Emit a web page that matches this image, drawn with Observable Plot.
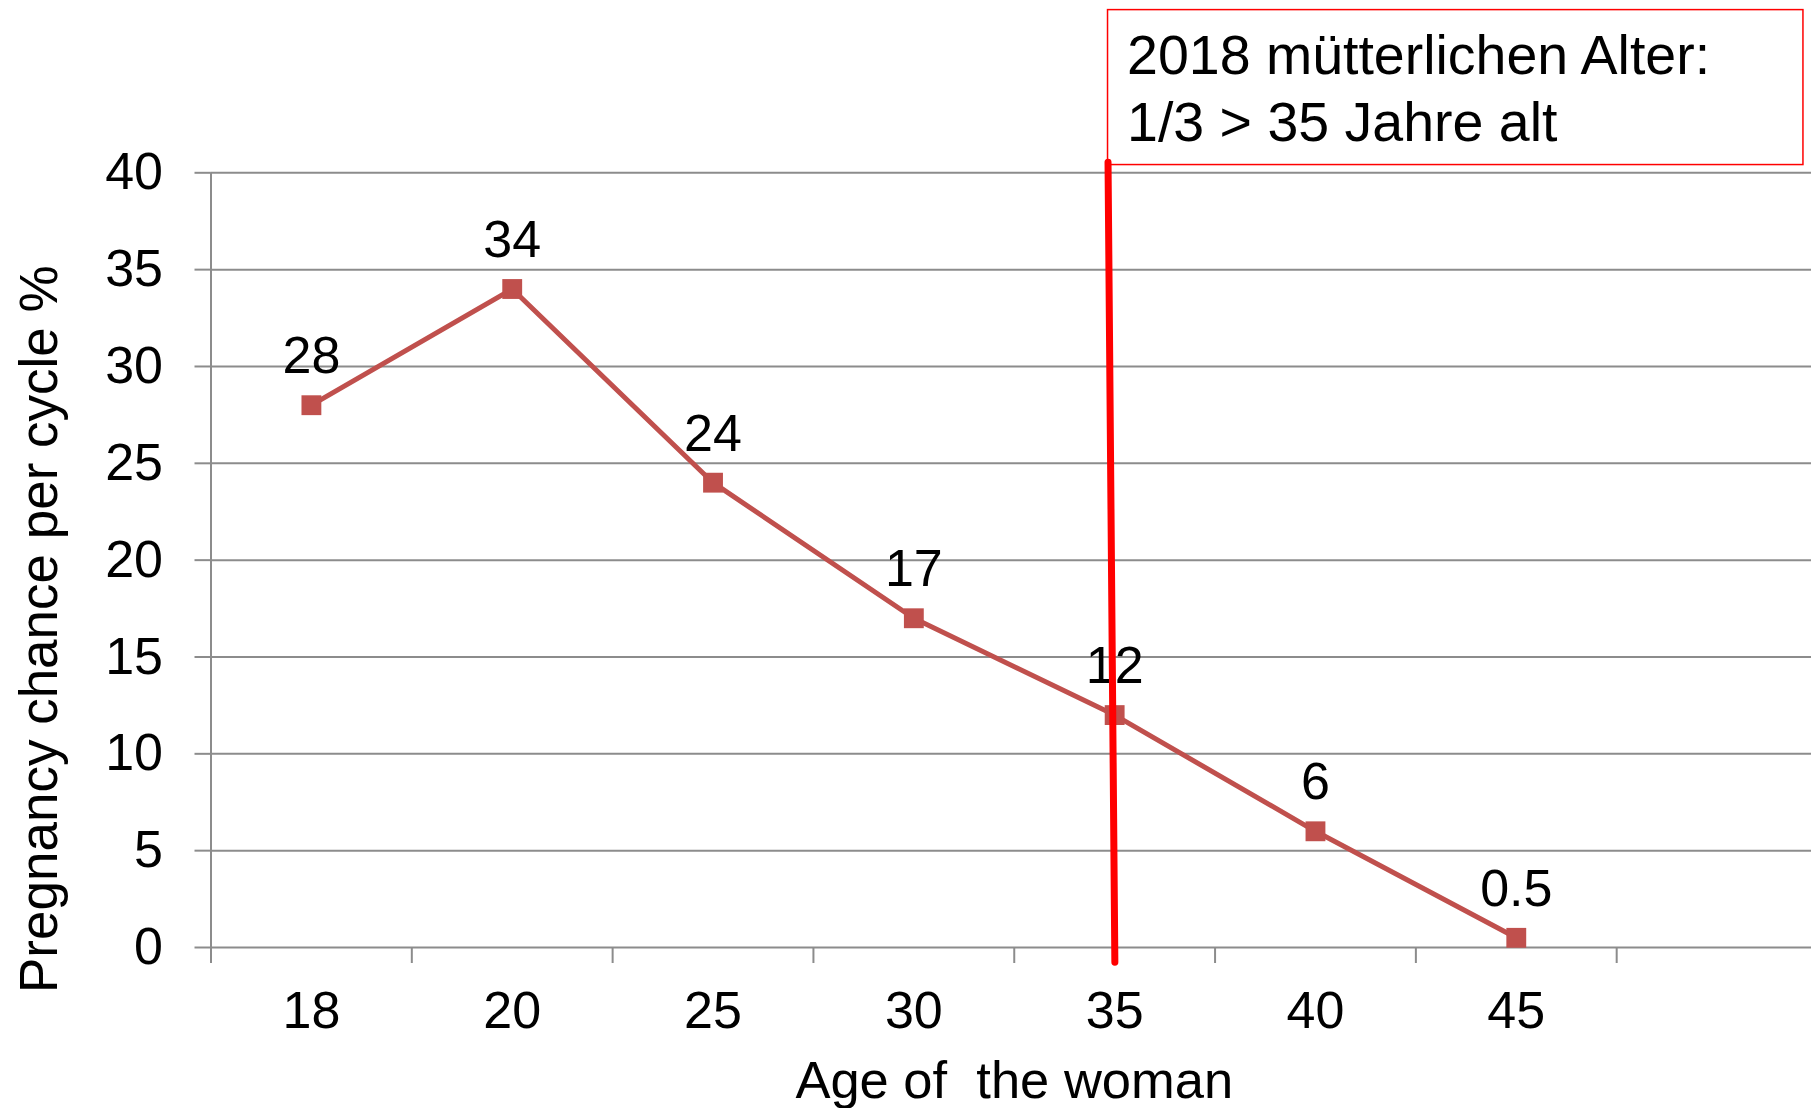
<!DOCTYPE html>
<html><head><meta charset="utf-8">
<script src="https://cdn.jsdelivr.net/npm/d3@7"></script>
<script src="https://cdn.jsdelivr.net/npm/@observablehq/plot@0.6"></script>
<style>html,body{margin:0;padding:0;background:#fff;overflow:hidden}</style>
</head><body><div id="chart"></div>
<script>
// ---- data ----
const ages = ["18", "20", "25", "30", "35", "40", "45"];
const chances = [28, 34, 24, 17, 12, 6, 0.5];
const yTicks = [0, 5, 10, 15, 20, 25, 30, 35, 40];
const slotCount = 8; // 7 categories + one empty category slot
// annotation (data units: x = category slot index, y = percent)
const markerLine = [{x: 4.467, y: 40.55}, {x: 4.501, y: -0.76}];
const noteBox = [{x1: 4.467, x2: 7.93, y1: 40.4, y2: 48.4}];
const noteText = "2018 mütterlichen Alter:\n1/3 > 35 Jahre alt";
const xTitle = "Age of  the woman";
const yTitle = "Pregnancy chance per cycle %";

const data = ages.map((a, i) => ({i: i + 0.5, age: a, v: chances[i]}));
const gray = "#8c8c8c";
const red = "#C0504D";

const chart = Plot.plot({
  width: 1811,
  height: 1108,
  marginTop: 172.3,
  marginBottom: 161,
  marginLeft: 210.5,
  marginRight: -6,
  style: {fontFamily: "'Liberation Sans', Arial, sans-serif", fontSize: "52px", color: "black", background: "white"},
  x: {domain: [0, slotCount]},
  y: {domain: [0, 40]},
  marks: [
    Plot.gridY(yTicks, {stroke: gray, strokeOpacity: 1, strokeWidth: 2}),
    Plot.axisY({ticks: yTicks, tickSize: 16, tickPadding: 32, fontSize: 52, stroke: gray, strokeWidth: 2, label: null, tickFormat: d => String(d)}),
    Plot.ruleX([0], {y1: 0, y2: 40, stroke: gray, strokeWidth: 2}),
    Plot.axisX({ticks: d3.range(0, slotCount + 1), tickSize: 16, tickFormat: () => "", stroke: gray, strokeWidth: 2, label: null}),
    Plot.axisX({ticks: data.map(d => d.i), tickSize: 0, tickPadding: 44, fontSize: 52, tickFormat: v => ages[Math.floor(v)], label: null}),
    Plot.line(data, {x: "i", y: "v", stroke: red, strokeWidth: 5}),
    Plot.dot(data, {x: "i", y: "v", symbol: "square", r: 11.2, fill: red, stroke: "none"}),
    Plot.text(data, {x: "i", y: "v", text: d => String(d.v), dy: -32, lineAnchor: "bottom", fontSize: 52, fill: "black"}),
    Plot.rect(noteBox, {x1: "x1", x2: "x2", y1: "y1", y2: "y2", fill: "white", stroke: "#FF0000", strokeWidth: 1.5}),
    Plot.text(noteBox, {x: "x1", y: "y1", text: () => noteText, textAnchor: "start", lineAnchor: "bottom", dx: 19, dy: -24, fontSize: 55.5, lineHeight: 1.2, fill: "black"}),
    Plot.line(markerLine, {x: "x", y: "y", stroke: "#FF0000", strokeWidth: 7}),
    Plot.text([xTitle], {text: d => d, frameAnchor: "bottom", lineAnchor: "bottom", dy: 150, fontSize: 52.5, fill: "black"}),
    Plot.text([yTitle], {text: d => d, frameAnchor: "left", rotate: -90, textAnchor: "middle", lineAnchor: "bottom", dx: -154.5, dy: 69, fontSize: 53, fill: "black"})
  ]
});
document.getElementById("chart").appendChild(chart);
</script>
</body></html>
